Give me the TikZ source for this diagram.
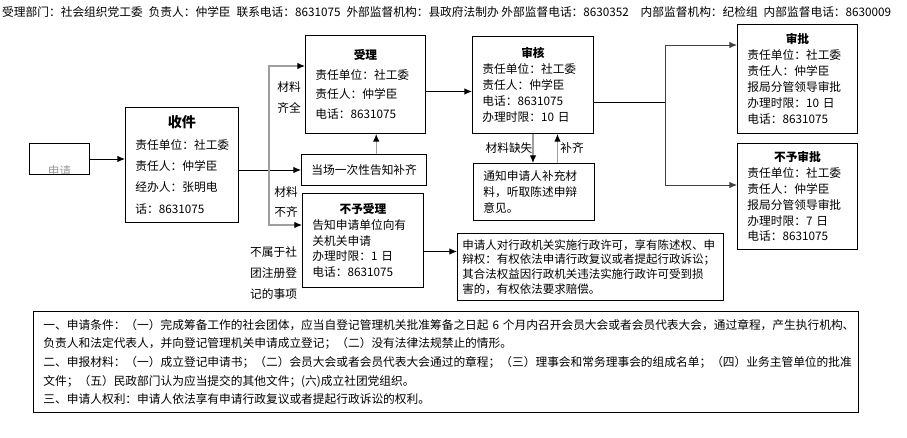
\documentclass[tikz,border=0pt]{standalone}
\usepackage{fontspec}
\setmainfont{Noto Sans CJK SC}
\usetikzlibrary{arrows.meta,positioning,calc}
\newcommand{\boxtitle}[1]{\makebox[\linewidth]{\bfseries #1}}

\begin{document}
\begin{tikzpicture}[x=0.03cm,y=-0.03cm,>={Latex[length=6.5pt,width=5.5pt]},
  box/.style={draw,line width=0.8pt,anchor=north west,inner xsep=0.3cm,inner ysep=0pt,align=left,font=\fontsize{10}{13.6}\selectfont},
  arr/.style={->,line width=0.8pt},
  garr/.style={-{Latex[length=6.5pt,width=5.5pt,color=black]},line width=0.9pt,draw=gray!75},
  lbl/.style={align=left,inner sep=0pt,font=\fontsize{10}{17.5}\selectfont}]
\useasboundingbox (0,0) rectangle (907,437);
\node[anchor=west,inner sep=0pt,font=\fontsize{10}{12}\selectfont] (header) at (2,12) {受理部门：社会组织党工委\enspace 负责人：仲学臣\enspace 联系电话：8631075\enspace 外部监督机构：县政府法制办 外部监督电话：8630352\quad 内部监督机构：纪检组\enspace 内部监督电话：8630009};
\node[box,minimum width=1.8cm,minimum height=0.93cm,path picture={\node[anchor=center,draw=none,inner sep=0pt,text=gray!80,font=\fontsize{10}{12}\selectfont] at ($(path picture bounding box.south)+(0,-3)$) {申请};}] (shenqing) at (29,143) {};
\node[box,text width=2.79cm,minimum height=3.45cm,font=\fontsize{10}{18.3}\selectfont] (shoujian) at (125,107) {\boxtitle{\fontsize{12}{14}\selectfont 收件}\\责任单位：社工委\\责任人：仲学臣\\经办人：张明电\\话：8631075};
\node[box,text width=3.0cm,minimum height=2.94cm,font=\fontsize{10}{16.6}\selectfont] (shouli) at (305,35) {\boxtitle{受理}\\责任单位：社工委\\责任人：仲学臣\\电话：8631075};
\node[box,align=center,minimum width=3.72cm,minimum height=0.93cm] (dangchang) at (301,154) {当场一次性告知补齐};
\node[box,text width=3.03cm,minimum height=2.82cm] (buyu) at (302,193) {\boxtitle{不予受理}\\告知申请单位向有\\关机关申请\\办理时限：1 日\\电话：8631075};
\node[box,inner xsep=0.15cm,text width=7.68cm,minimum height=2.01cm,font=\fontsize{9.8}{12.4}\selectfont] (shenshu) at (457,233) {申请人对行政机关实施行政许可，享有陈述权、申\\辩权：有权依法申请行政复议或者提起行政诉讼；\\其合法权益因行政机关违法实施行政许可受到损\\害的，有权依法要求赔偿。};
\node[box,text width=3.03cm,minimum height=2.91cm] (shenhe) at (472,36) {\boxtitle{审核}\\责任单位：社工委\\责任人：仲学臣\\电话：8631075\\办理时限：10 日};
\node[box,text width=3.03cm,minimum height=1.71cm,font=\fontsize{10}{14}\selectfont] (tongzhi) at (473,163) {通知申请人补充材\\料，听取陈述申辩\\意见。};
\node[box,text width=3.0cm,minimum height=3.27cm] (shenpi) at (737,24) {\boxtitle{审批}\\责任单位：社工委\\责任人：仲学臣\\报局分管领导审批\\办理时限：10 日\\电话：8631075};
\node[box,text width=3.0cm,minimum height=3.18cm] (nopi) at (737,143) {\boxtitle{不予审批}\\责任单位：社工委\\责任人：仲学臣\\报局分管领导审批\\办理时限：7 日\\电话：8631075};
\node[box,text width=24.15cm,minimum height=3.03cm,font=\fontsize{10}{15.9}\selectfont] (tiaojian) at (33,311) {一、申请条件：（一）完成筹备工作的社会团体，应当自登记管理机关批准筹备之日起~6~个月内召开会员大会或者会员代表大会，通过章程，产生执行机构、\\负责人和法定代表人，并向登记管理机关申请成立登记；（二）没有法律法规禁止的情形。\\二、申报材料：（一）成立登记申请书；（二）会员大会或者会员代表大会通过的章程；（三）理事会和常务理事会的组成名单；（四）业务主管单位的批准\\文件；（五）民政部门认为应当提交的其他文件；(六)成立社团党组织。\\三、申请人权利：申请人依法享有申请行政复议或者提起行政诉讼的权利。};
\node[lbl] (qiquan) at (289,97.5) {材料\\齐全};
\node[lbl] (buqi) at (286,202) {材料\\不齐};
\node[lbl,anchor=west,font=\fontsize{10}{17.9}\selectfont] (bushu) at (250,273) {不属于社\\团注册登\\记的事项};
\node[lbl] (queshi) at (509,148) {材料缺失};
\node[lbl] (buqi2) at (572,148) {补齐};
\coordinate (fork) at (269,169);
\coordinate (fork2) at (665,102);
\draw[arr] (shenqing.east) -- (shenqing.east -| shoujian.west);
\draw[arr] (shoujian.east |- dangchang.west) -- (dangchang.west);
\draw[garr] (fork) |- ($(shouli.north west)+(0,31)$);
\draw[garr] (fork) |- ($(buyu.north west)+(0,32)$);
\draw[garr] ($(dangchang.north)+(12,0)$) coordinate (s1) -- (s1 |- shouli.south);
\draw[arr] ($(shouli.east)+(0,7)$) coordinate (s2) -- (s2 -| shenhe.west);
\draw[arr] ($(buyu.east)+(0,11)$) coordinate (s3) -- (s3 -| shenshu.west);
\draw[garr] (shenhe.south) -- (shenhe.south |- tongzhi.north);
\draw[garr] ($(tongzhi.north)+(23.5,0)$) coordinate (s4) -- (s4 |- shenhe.south);
\draw[line width=0.8pt] (fork2 -| shenhe.east) -- (fork2);
\draw[arr,draw=black!75] (fork2) |- ($(shenpi.north west)+(0,21)$);
\draw[arr,draw=black!75] (fork2) |- ($(nopi.north west)+(0,42)$);
\end{tikzpicture}
\end{document}
